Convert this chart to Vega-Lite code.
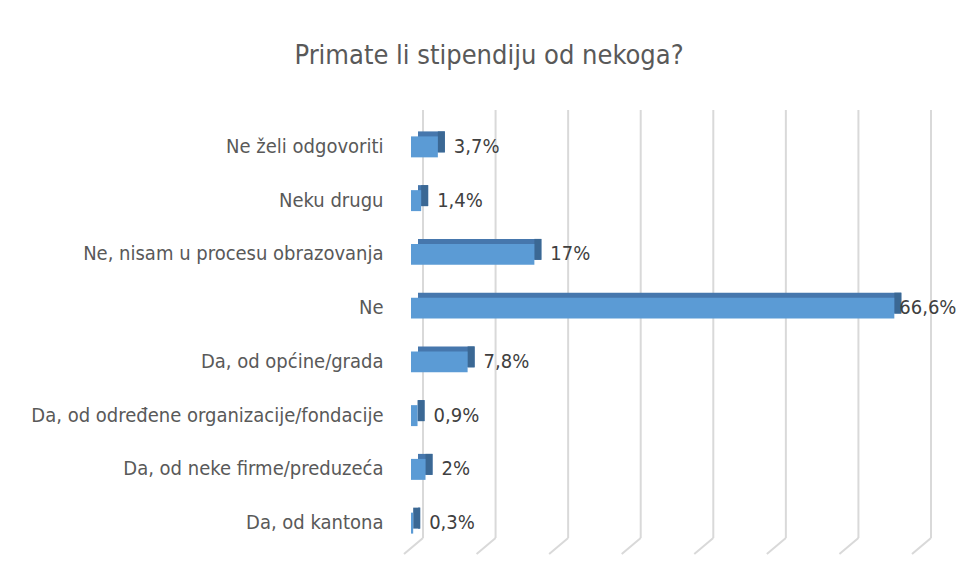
{
  "$schema": "https://vega.github.io/schema/vega-lite/v6.json",
  "width": 508,
  "height": 430,
  "autosize": {"type": "none"},
  "padding": {"left": 411, "top": 120, "right": 37, "bottom": 32},
  "background": "white",
  "title": {
    "text": "Primate li stipendiju od nekoga?",
    "fontSize": 27,
    "fontWeight": "normal",
    "color": "#595959",
    "anchor": "middle",
    "frame": "group",
    "dx": -176,
    "baseline": "alphabetic",
    "offset": 18
  },
  "datasets": {
    "bars": [
      {"cat": "Ne želi odgovoriti", "v": 3.7, "label": "3,7%"},
      {"cat": "Neku drugu", "v": 1.4, "label": "1,4%"},
      {"cat": "Ne, nisam u procesu obrazovanja", "v": 17, "label": "17%"},
      {"cat": "Ne", "v": 66.6, "label": "66,6%"},
      {"cat": "Da, od općine/grada", "v": 7.8, "label": "7,8%"},
      {"cat": "Da, od određene organizacije/fondacije", "v": 0.9, "label": "0,9%"},
      {"cat": "Da, od neke firme/preduzeća", "v": 2, "label": "2%"},
      {"cat": "Da, od kantona", "v": 0.3, "label": "0,3%"}
    ],
    "grid": [
      {"t": 0}, {"t": 10}, {"t": 20}, {"t": 30}, {"t": 40}, {"t": 50}, {"t": 60}, {"t": 70}
    ]
  },
  "resolve": {"scale": {"x": "shared", "y": "shared"}},
  "layer": [
    {
      "data": {"name": "grid"},
      "mark": {"type": "rule", "color": "#d9d9d9", "strokeWidth": 2, "xOffset": 12, "yOffset": -10, "y2Offset": -12},
      "encoding": {
        "x": {"field": "t", "type": "quantitative", "scale": {"domain": [0, 70], "nice": false, "zero": true}, "axis": null},
        "y": {"value": 0},
        "y2": {"value": "height"}
      }
    },
    {
      "data": {"name": "grid"},
      "mark": {"type": "rule", "color": "#d9d9d9", "strokeWidth": 2, "xOffset": 12, "x2Offset": -7, "yOffset": -12, "y2Offset": 4},
      "encoding": {
        "x": {"field": "t", "type": "quantitative"},
        "x2": {"field": "t"},
        "y": {"value": "height"},
        "y2": {"value": "height"}
      }
    },
    {
      "data": {"name": "bars"},
      "mark": {"type": "bar", "color": "#4677ad", "xOffset": 7, "x2Offset": 7, "yOffset": -5},
      "encoding": {
        "y": {
          "field": "cat", "type": "nominal", "sort": null,
          "scale": {"paddingInner": 0.61, "paddingOuter": 0.305},
          "axis": {
            "title": null, "domain": false, "ticks": false, "tickSize": 0,
            "labelPadding": 28, "labelFontSize": 20, "labelColor": "#595959",
            "labelFont": "DejaVu Sans Condensed, sans-serif",
            "labelLimit": 500, "grid": false
          }
        },
        "x": {"field": "v", "type": "quantitative"},
        "x2": {"datum": 0}
      }
    },
    {
      "data": {"name": "bars"},
      "mark": {"type": "bar", "color": "#3b6894", "xOffset": 0, "x2Offset": 7, "yOffset": -5},
      "encoding": {
        "y": {"field": "cat", "type": "nominal", "sort": null},
        "x": {"field": "v", "type": "quantitative"},
        "x2": {"field": "v"}
      }
    },
    {
      "data": {"name": "bars"},
      "mark": {"type": "bar", "color": "#5b9bd5"},
      "encoding": {
        "y": {"field": "cat", "type": "nominal", "sort": null},
        "x": {"field": "v", "type": "quantitative"},
        "x2": {"datum": 0}
      }
    },
    {
      "data": {"name": "bars"},
      "mark": {"type": "text", "align": "left", "baseline": "middle", "dx": {"expr": "datum.v > 60 ? 5 : 16"}, "fontSize": 20, "color": "#404040", "font": "DejaVu Sans Condensed, sans-serif"},
      "encoding": {
        "y": {"field": "cat", "type": "nominal", "sort": null},
        "x": {"field": "v", "type": "quantitative"},
        "text": {"field": "label"}
      }
    }
  ],
  "config": {
    "font": "DejaVu Sans Condensed, sans-serif",
    "view": {"stroke": null},
    "title": {"font": "DejaVu Sans Condensed, sans-serif"}
  }
}
